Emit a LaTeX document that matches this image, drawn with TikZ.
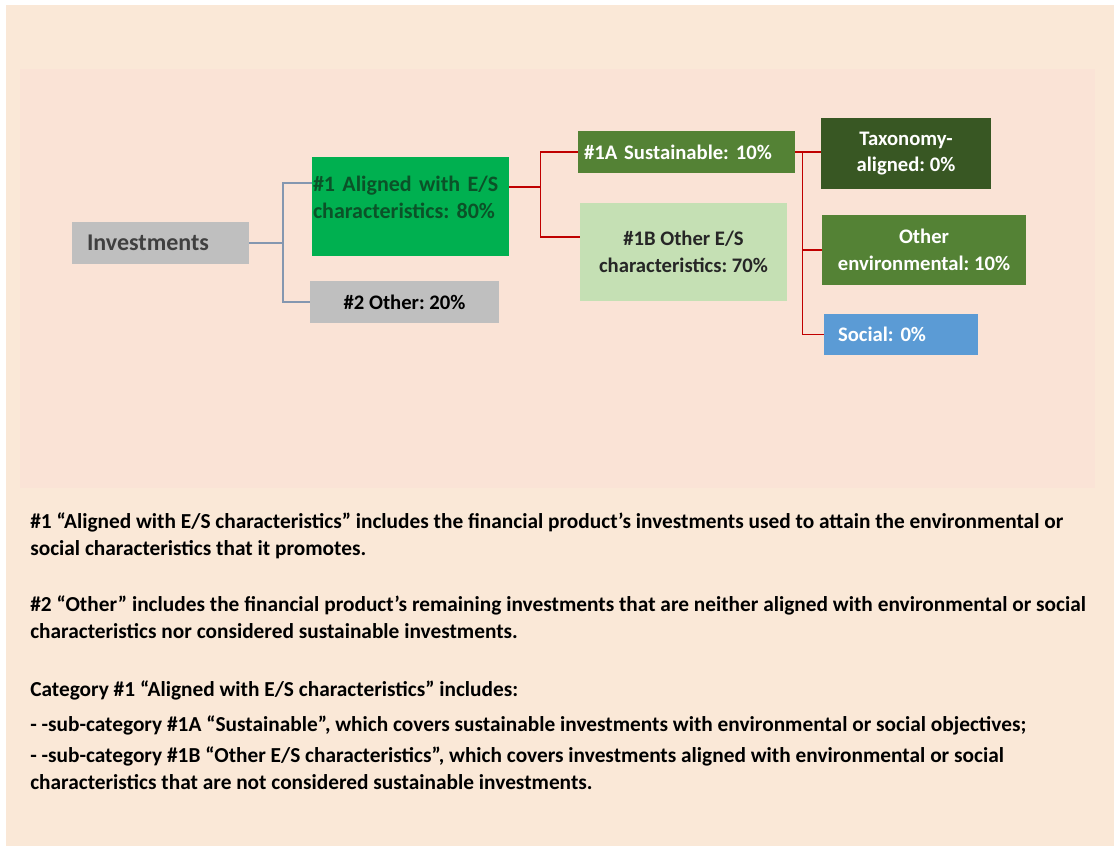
\documentclass[tikz,border=0pt]{standalone}
\usepackage{fontspec}
\setmainfont{Carlito}
\usetikzlibrary{positioning}
\frenchspacing

\definecolor{pagebg}{HTML}{FAE8D7}
\definecolor{panelbg}{HTML}{FAE3D6}
\definecolor{boxgray}{HTML}{BFBFBF}
\definecolor{brightgreen}{HTML}{00B050}
\definecolor{midgreen}{HTML}{548235}
\definecolor{darkgreen}{HTML}{385723}
\definecolor{palegreen}{HTML}{C5E0B4}
\definecolor{skyblue}{HTML}{5B9BD5}
\definecolor{greentext}{HTML}{0B5228}
\definecolor{graylink}{HTML}{8497B0}
\definecolor{redlink}{HTML}{C00000}

\begin{document}
\begin{tikzpicture}[x=0.75pt, y=-0.75pt,
  box/.style={inner sep=0pt, font=\bfseries\fontsize{15.5}{20}\selectfont, align=center},
  sz/.style 2 args={minimum width=#1*0.75pt, minimum height=#2*0.75pt},
  bline/.style={draw=graylink, line width=1.3pt},
  rline/.style={draw=redlink, line width=0.9pt},
  note/.style={anchor=base west, inner sep=0pt, align=left,
    font=\bfseries\fontsize{16}{20}\selectfont}]

% page and panel
      \fill[white] (0,0) rectangle (1114,846);
      \fill[pagebg] (6,5) rectangle (1114,846);
      \fill[panelbg] (20,69) rectangle (1095,488);
      \useasboundingbox (0,0) rectangle (1114,846);

% level 0
      \node[box, sz={177}{42}, fill=boxgray, text=black!75, text width=147*0.75pt, align=left,
        font=\bfseries\fontsize{18}{20}\selectfont] (inv) at (160.5,243) {Investments};

% level 1
      \node[box, sz={197}{99}, fill=brightgreen, text=greentext, text width=195*0.75pt, align=left,
        font=\bfseries\fontsize{16.5}{20}\selectfont, text depth=34pt] (agl) at (410.5,206.5)
        {\#1 Aligned with E/S\\characteristics: 80\%};
      \node[box, sz={189}{42}, fill=boxgray, text=black] (oth2) at (404.5,302) {\#2 Other: 20\%};

% level 2
      \node[box, sz={217}{42}, fill=midgreen, text=white, text width=205*0.75pt, align=left] (sus) at (686.5,152) {\#1A Sustainable: 10\%};
      \node[box, sz={207}{98}, fill=palegreen, text=black!85] (oes) at (683.5,252)
        {\#1B Other E/S\\characteristics: 70\%};

% level 3
      \node[box, sz={170}{71}, fill=darkgreen, text=white] (tax) at (906,153.5) {Taxonomy-\\aligned: 0\%};
      \node[box, sz={204}{70}, fill=midgreen, text=white] (env) at (924,250) {Other\\environmental: 10\%};
      \node[box, sz={154}{41}, fill=skyblue, text=white, text width=126*0.75pt, align=left] (soc) at (901,334.5) {Social: 0\%};

% Connectors
      \draw[bline] (inv.east) -- ++(34,0) coordinate (f1) |- ([yshift=17.6pt]agl.west);
      \draw[bline] (f1) |- (oth2.west);
      \draw[rline] ([yshift=14.6pt]agl.east) -- ++(31,0) coordinate (f2) |- (sus.west);
      \draw[rline] (f2) |- ([yshift=11.25pt]oes.west);
      \draw[rline] (sus.east) -- (sus.east -| tax.west);
      \draw[rline] (sus.east) -- ++(7,0) coordinate (f3) |- (soc.west);
      \draw[rline] (f3 |- env.west) -- (env.west);

% Notes (anchored at the baseline of the last line)
      \node[note] (n1) at (30,555) {\#1 “Aligned with E/S characteristics” includes the financial product’s investments used to attain the environmental or\\social characteristics that it promotes.};
      \node[note] (n2) at (30,638) {\#2 “Other” includes the financial product’s remaining investments that are neither aligned with environmental or social\\characteristics nor considered sustainable investments.};
      \node[note] (n3) at (30,696) {Category \#1 “Aligned with E/S characteristics” includes:};
      \node[note] (n4) at (30,731) {- -sub-category \#1A “Sustainable”, which covers sustainable investments with environmental or social objectives;};
      \node[note] (n5) at (30,789) {- -sub-category \#1B “Other E/S characteristics”, which covers investments aligned with environmental or social\\characteristics that are not considered sustainable investments.};

    \end{tikzpicture}
\end{document}
